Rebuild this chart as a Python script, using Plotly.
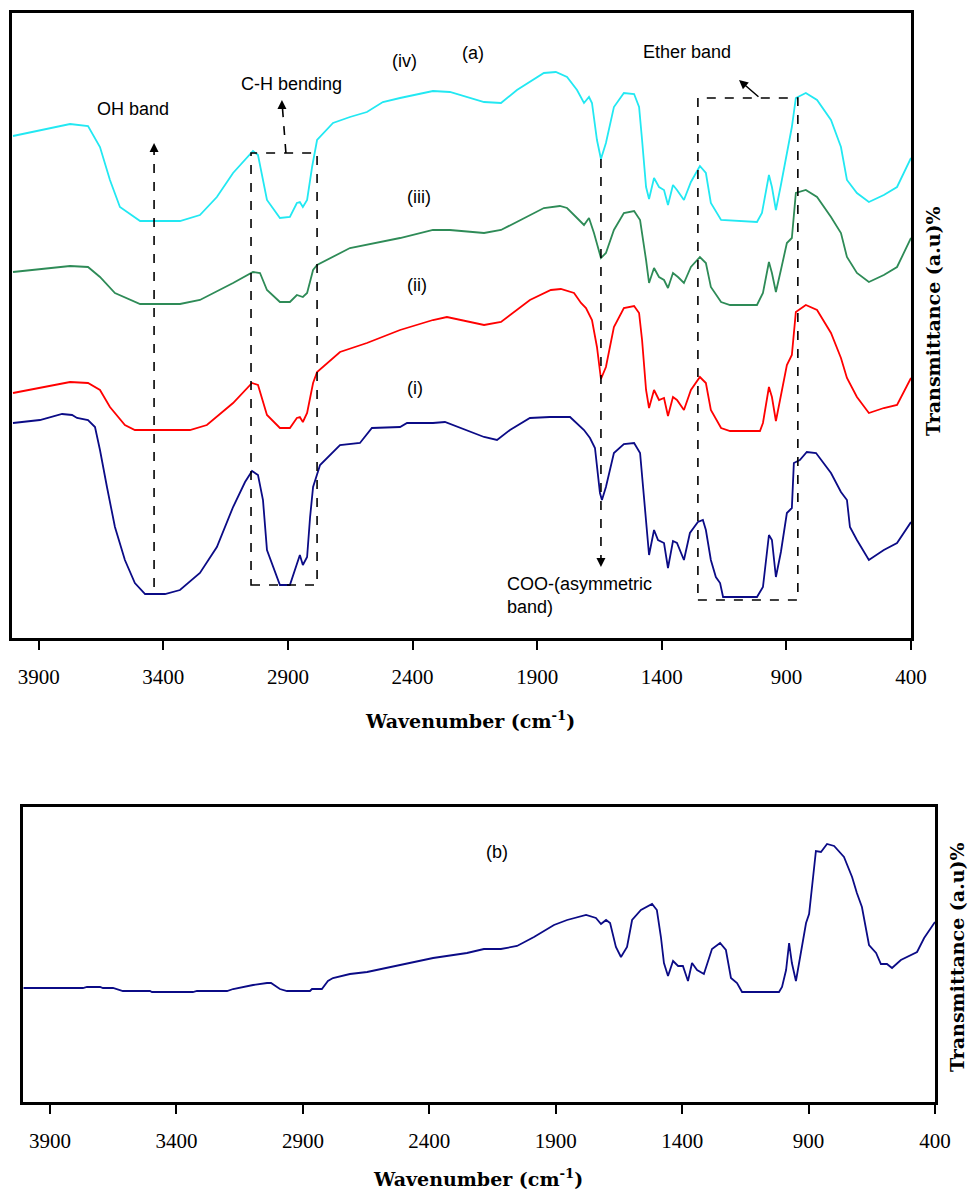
import plotly.graph_objects as go

# ---------------- Panel (a) data : wavenumber (cm-1) and transmittance (a.u.) ----------------
wn_iv = [4003, 3774, 3702, 3654, 3614, 3574, 3493, 3333, 3253, 3185, 3120, 3040, 3020, 2984, 2932, 2892,
         2864, 2852, 2840, 2823, 2803, 2783, 2719, 2651, 2583, 2519, 2450, 2318, 2250, 2113, 2045, 1981,
         1873, 1825, 1780, 1740, 1712, 1692, 1680, 1660, 1644, 1624, 1592, 1552, 1511, 1491, 1479, 1463,
         1451, 1431, 1411, 1391, 1375, 1355, 1339, 1311, 1283, 1247, 1223, 1203, 1162, 1018, 998, 970,
         958, 942, 922, 898, 878, 862, 822, 777, 721, 681, 657, 617, 569, 509, 456, 400]
t_iv = [502, 514, 512, 491, 458, 431, 417, 417, 423, 441, 465, 487, 483, 438, 420, 421,
        435, 436, 431, 438, 471, 498, 515, 521, 526, 536, 540, 547, 546, 536, 535, 548,
        565, 566, 561, 548, 535, 541, 535, 498, 479, 495, 531, 545, 544, 531, 498, 451,
        439, 460, 451, 448, 433, 453, 448, 438, 456, 472, 465, 435, 418, 416, 425, 463,
        451, 428, 453, 485, 511, 540, 545, 538, 518, 491, 458, 445, 436, 443, 451, 480]

wn_iii = [4003, 3774, 3702, 3654, 3594, 3493, 3333, 3253, 3120, 3040, 3012, 2984, 2932, 2892, 2864, 2840,
          2823, 2799, 2783, 2651, 2450, 2318, 2250, 2113, 2045, 1981, 1873, 1809, 1780, 1740, 1712, 1692,
          1672, 1644, 1624, 1592, 1552, 1511, 1487, 1463, 1451, 1431, 1411, 1391, 1375, 1355, 1335, 1311,
          1283, 1247, 1223, 1203, 1162, 1126, 1018, 994, 970, 958, 942, 922, 898, 878, 862, 822,
          777, 721, 681, 657, 617, 569, 509, 456, 400]
t_iii = [366, 372, 371, 361, 345, 334, 334, 338, 355, 366, 365, 348, 336, 336, 343, 341,
         345, 368, 373, 390, 400, 408, 408, 405, 408, 416, 430, 432, 430, 420, 413, 420,
         405, 380, 385, 408, 425, 427, 418, 378, 355, 370, 361, 358, 350, 365, 361, 355,
         371, 381, 375, 351, 336, 333, 333, 345, 376, 365, 346, 368, 395, 400, 445, 448,
         441, 421, 405, 381, 365, 356, 363, 371, 400]

wn_ii = [4003, 3774, 3702, 3654, 3614, 3554, 3514, 3293, 3225, 3120, 3044, 3020, 2984, 2932, 2892, 2864,
         2852, 2840, 2823, 2799, 2783, 2691, 2583, 2450, 2318, 2262, 2113, 2045, 1929, 1845, 1805, 1752,
         1724, 1704, 1680, 1660, 1644, 1624, 1592, 1552, 1511, 1491, 1479, 1463, 1451, 1431, 1411, 1391,
         1375, 1355, 1339, 1311, 1283, 1247, 1223, 1203, 1162, 1126, 1006, 994, 970, 958, 942, 922,
         898, 878, 862, 822, 777, 721, 681, 657, 617, 569, 509, 456, 400]
t_ii = [245, 256, 255, 248, 231, 213, 208, 208, 213, 235, 255, 253, 223, 210, 210, 220,
        221, 216, 225, 255, 266, 286, 295, 308, 318, 321, 313, 316, 338, 348, 349, 345,
        335, 330, 318, 291, 259, 271, 311, 330, 332, 325, 298, 248, 230, 248, 238, 240,
        222, 241, 238, 228, 248, 261, 255, 228, 210, 207, 207, 215, 251, 241, 217, 241,
        273, 283, 326, 333, 328, 305, 280, 260, 241, 225, 230, 233, 260]

wn_i = [4003, 3895, 3806, 3766, 3746, 3702, 3674, 3654, 3626, 3594, 3554, 3514, 3473, 3393, 3333, 3253,
        3185, 3120, 3072, 3044, 3020, 3000, 2984, 2964, 2932, 2892, 2864, 2852, 2840, 2823, 2811, 2799,
        2771, 2691, 2611, 2563, 2450, 2422, 2318, 2270, 2113, 2061, 2009, 1929, 1849, 1768, 1712, 1688,
        1668, 1648, 1640, 1624, 1592, 1552, 1511, 1487, 1475, 1459, 1451, 1431, 1415, 1391, 1375, 1355,
        1339, 1311, 1287, 1255, 1235, 1223, 1203, 1183, 1166, 1154, 1018, 994, 970, 958, 942, 922,
        898, 878, 870, 846, 818, 781, 721, 681, 657, 645, 617, 569, 509, 456, 400]
t_i = [215, 218, 224, 223, 220, 218, 211, 188, 151, 111, 78, 55, 44, 44, 48, 65,
       91, 131, 156, 167, 163, 138, 88, 75, 53, 53, 75, 83, 73, 81, 121, 151,
       173, 193, 195, 210, 211, 215, 215, 216, 201, 198, 208, 220, 221, 221, 208, 200,
       190, 145, 138, 151, 185, 194, 195, 185, 151, 105, 83, 108, 98, 95, 70, 97,
       95, 78, 105, 116, 118, 108, 78, 61, 55, 41, 41, 51, 103, 98, 61, 86,
       125, 130, 175, 178, 186, 185, 165, 146, 138, 111, 98, 78, 88, 95, 116]

# ---------------- Panel (b) data ----------------
wn_b = [4005, 3770, 3754, 3702, 3691, 3651, 3612, 3505, 3497, 3335, 3319, 3200, 3176, 3097, 3042, 3026,
        2991, 2963, 2872, 2864, 2825, 2801, 2781, 2714, 2646, 2516, 2385, 2251, 2184, 2117, 2053, 1986,
        1907, 1855, 1780, 1741, 1721, 1701, 1685, 1662, 1642, 1618, 1598, 1563, 1519, 1500, 1484, 1472,
        1456, 1436, 1416, 1397, 1389, 1377, 1361, 1341, 1314, 1282, 1250, 1227, 1207, 1183, 1163, 1017,
        1005, 989, 977, 966, 950, 934, 910, 898, 887, 871, 851, 827, 799, 760, 728, 709,
        689, 661, 633, 614, 590, 570, 535, 471, 443, 400]
t_b = [114, 114, 115, 115, 114, 114, 111, 111, 110, 110, 111, 111, 113, 117, 119, 119,
       113, 111, 111, 113, 113, 121, 124, 128, 130, 137, 144, 149, 153, 153, 156, 165,
       177, 182, 187, 184, 178, 182, 179, 155, 145, 155, 182, 192, 198, 192, 165, 139,
       126, 141, 136, 136, 129, 121, 139, 132, 128, 153, 159, 152, 124, 119, 110, 110,
       115, 132, 159, 139, 121, 144, 179, 188, 212, 251, 250, 258, 256, 245, 225, 209,
       195, 157, 149, 138, 138, 134, 142, 150, 164, 180]

x_ticks = [3900, 3400, 2900, 2400, 1900, 1400, 900, 400]
x_range = [4007, 400]

W, H = 968, 1191
fig = go.Figure()

series_a = [
    (wn_iv, t_iv, "#22E8F2"),
    (wn_iii, t_iii, "#2E8B57"),
    (wn_ii, t_ii, "#FF0000"),
    (wn_i, t_i, "#0B0B86"),
]
for xs, ys, col in series_a:
    fig.add_trace(go.Scatter(x=xs, y=ys, mode="lines", line=dict(color=col, width=1.8),
                             xaxis="x", yaxis="y", showlegend=False, hoverinfo="skip"))
fig.add_trace(go.Scatter(x=wn_b, y=t_b, mode="lines", line=dict(color="#0B0B86", width=1.8),
                         xaxis="x2", yaxis="y2", showlegend=False, hoverinfo="skip"))

tickfont = dict(family="Liberation Serif", size=21, color="black")
common_x = dict(range=x_range, tickmode="array", tickvals=x_ticks, ticktext=[str(v) for v in x_ticks],
                ticks="outside", ticklen=9, tickwidth=1.5, tickcolor="black",
                showline=True, linecolor="black", linewidth=3, mirror=True, automargin=False,
                showgrid=False, zeroline=False, tickfont=tickfont, ticklabelstandoff=9)
common_y = dict(showticklabels=False, ticks="", showline=True, linecolor="black", linewidth=3,
                mirror=True, showgrid=False, zeroline=False, automargin=False)

fig.update_layout(
    width=W, height=H, margin=dict(l=0, r=0, t=0, b=0, pad=0),
    paper_bgcolor="white", plot_bgcolor="white",
    xaxis=dict(domain=[12 / W, 911 / W], anchor="y", **common_x),
    yaxis=dict(domain=[1 - 638 / H, 1 - 13 / H], range=[0, 625], anchor="x", **common_y),
    xaxis2=dict(domain=[23 / W, 935 / W], anchor="y2", **common_x),
    yaxis2=dict(domain=[1 - 1102 / H, 1 - 807 / H], range=[0, 295], anchor="x2", **common_y),
)

dash = dict(color="black", width=1.6, dash="dash")
# C-H bending box
fig.add_shape(type="rect", xref="x", yref="y", x0=3048, x1=2783, y0=53, y1=485, line=dash)
# Ether band box
fig.add_shape(type="rect", xref="x", yref="y", x0=1255, x1=854, y0=38, y1=540, line=dash)
# OH dashed vertical
fig.add_shape(type="line", xref="x", yref="y", x0=3437, x1=3437, y0=51, y1=492, line=dash)
# C-H dashed arrow line
fig.add_shape(type="line", xref="x", yref="y", x0=2908, x1=2923, y0=485, y1=534, line=dash)
# COO dashed vertical
fig.add_shape(type="line", xref="x", yref="y", x0=1644, x1=1644, y0=479, y1=74, line=dash)

sans = dict(family="Liberation Sans, Arial", size=18, color="black")
arr = dict(showarrow=True, arrowhead=2, arrowsize=1.2, arrowwidth=1.5, arrowcolor="black", text="")
ann = []
# arrowheads
ann.append(dict(x=3437, y=495, xref="x", yref="y", ax=0, ay=10, **arr))
ann.append(dict(x=2924, y=538, xref="x", yref="y", ax=0, ay=10, **arr))
ann.append(dict(x=1644, y=71, xref="x", yref="y", ax=0, ay=-10, **arr))
ann.append(dict(x=1090, y=558, xref="x", yref="y", ax=1006, ay=540, axref="x", ayref="y", **arr))
# texts panel (a)
for txt, x, y in [("OH band", 3522, 529), ("C-H bending", 2884, 554), ("(iv)", 2434, 577),
                  ("(a)", 2157, 585), ("(iii)", 2374, 441), ("(ii)", 2382, 353), ("(i)", 2390, 250),
                  ("Ether band", 1299, 586)]:
    ann.append(dict(x=x, y=y, xref="x", yref="y", text=txt, showarrow=False, font=sans,
                    xanchor="center", yanchor="middle"))
ann.append(dict(x=2029, y=43, xref="x", yref="y", text="COO-(asymmetric<br>band)", showarrow=False,
                xanchor="left", yanchor="middle", align="left", font=sans))
ann.append(dict(x=2132, y=250, xref="x2", yref="y2", text="(b)", showarrow=False, font=sans,
                xanchor="center", yanchor="middle"))

serif_b = dict(family="DejaVu Serif", size=19, color="black")
for x, y, txt, ang in [(933, 321, "<b>Transmittance (a.u)%</b>", -90),
                       (957, 957, "<b>Transmittance (a.u)%</b>", -90),
                       (470, 720, "<b>Wavenumber (cm<sup>-1</sup>)</b>", 0),
                       (478, 1178, "<b>Wavenumber (cm<sup>-1</sup>)</b>", 0)]:
    ann.append(dict(x=x / W, y=1 - y / H, xref="paper", yref="paper", text=txt, textangle=ang,
                    showarrow=False, font=serif_b, xanchor="center", yanchor="middle"))
fig.update_layout(annotations=ann)

fig.write_html("out.html", config={"displayModeBar": False},
               post_script="document.body.style.margin='0';document.body.style.overflow='hidden';")
